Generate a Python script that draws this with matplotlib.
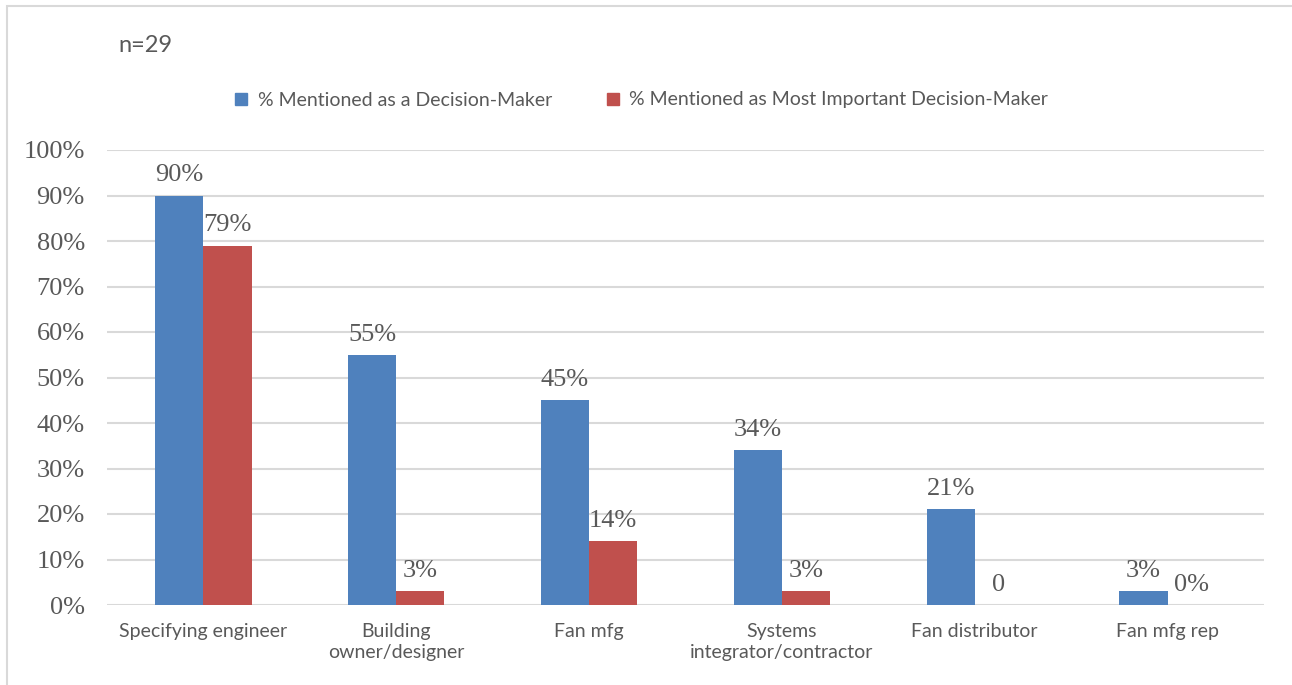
import numpy as np
import matplotlib.pyplot as plt
from matplotlib.lines import Line2D

categories = ['Specifying engineer', 'Building\nowner/designer', 'Fan mfg',
              'Systems\nintegrator/contractor', 'Fan distributor', 'Fan mfg rep']
decision_maker = [90, 55, 45, 34, 21, 3]
most_important = [79, 3, 14, 3, 0, 0]
dm_labels = ['90%', '55%', '45%', '34%', '21%', '3%']
mi_labels = ['79%', '3%', '14%', '3%', '0', '0%']
yticks = [0, 10, 20, 30, 40, 50, 60, 70, 80, 90, 100]

blue = '#4F81BD'
red = '#C0504D'
grey_txt = '#595959'
serif = 'Liberation Serif'
sans = 'Lato'

fig = plt.figure(figsize=(12.92, 6.85), dpi=100)
ax = fig.add_axes([107/1292, 1-605/685, (1264-107)/1292, (605-150)/685])

x = np.arange(len(categories))
w = 0.25
ax.bar(x - w/2, decision_maker, w, color=blue, zorder=2)
ax.bar(x + w/2, most_important, w, color=red, zorder=2)

for xi, v, s in zip(x, decision_maker, dm_labels):
    ax.text(xi - w/2, v + 2.0, s, ha='center', va='bottom', fontsize=19,
            family=serif, color=grey_txt)
for xi, v, s in zip(x, most_important, mi_labels):
    ax.text(xi + w/2, v + 2.0, s, ha='center', va='bottom', fontsize=19,
            family=serif, color=grey_txt)

ax.set_xlim(-0.5, len(categories) - 0.5)
ax.set_ylim(0, 100)
ax.set_yticks(yticks)
ax.set_yticklabels([f'{t}%' for t in yticks], family=serif, fontsize=19,
                   color=grey_txt)
ax.set_xticks(x)
ax.set_xticklabels(categories, family=sans, fontsize=14, color=grey_txt,
                   linespacing=1.3, va='top')
ax.tick_params(length=0)
ax.tick_params(axis='x', pad=13)
ax.tick_params(axis='y', pad=16)
ax.grid(axis='y', color='#D9D9D9', linewidth=1.5, zorder=0)
for sp in ax.spines.values():
    sp.set_visible(False)

fig.text(118/1292, 1-45/685, 'n=29', family=sans, fontsize=17,
         color=grey_txt, va='center')

handles = [Line2D([], [], marker='s', linestyle='', color=blue, markersize=9),
           Line2D([], [], marker='s', linestyle='', color=red, markersize=9)]
fig.legend(handles, ['% Mentioned as a Decision-Maker',
                     '% Mentioned as Most Important Decision-Maker'],
           loc='center left', bbox_to_anchor=(222/1292, 1-100/685), ncol=2,
           frameon=False, prop={'family': sans, 'size': 14},
           labelcolor=grey_txt, handlelength=1.0, handletextpad=0.35,
           columnspacing=2.6, borderpad=0)

# light outer frame
fig.add_artist(plt.Rectangle((7/1292, -0.05), 1.1, 1-6/685 + 0.05,
                             transform=fig.transFigure, fill=False,
                             edgecolor='#D9D9D9', linewidth=1.5))

fig.savefig('out.png', dpi=100)
